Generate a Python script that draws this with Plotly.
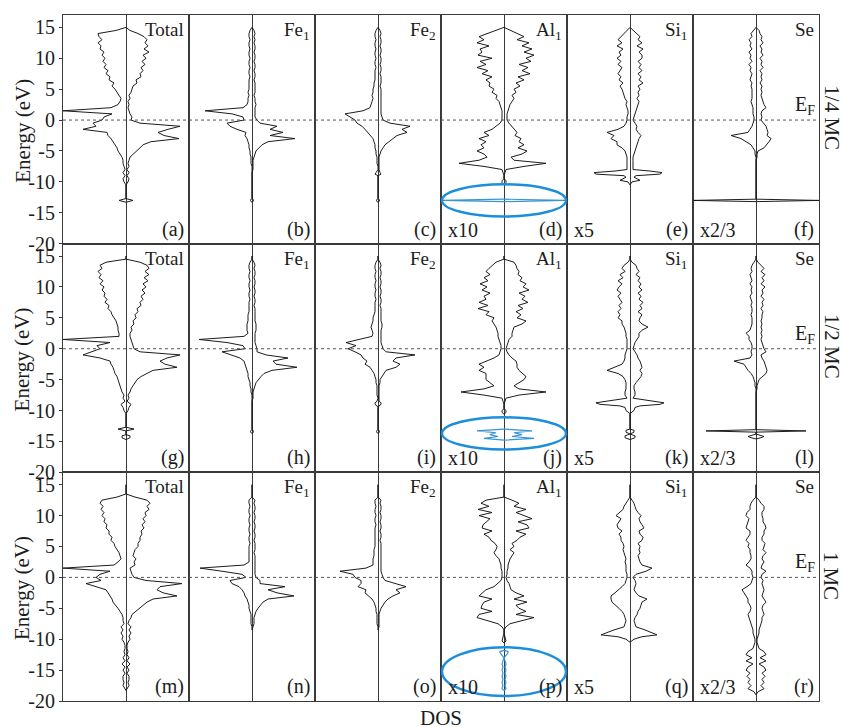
import plotly.graph_objects as go
from plotly.subplots import make_subplots

# ---------------- energy grid (eV) shared by the valence region ----------------
E_MAIN = [15, 14.5, 14, 13.5, 13, 12.5, 12, 11.5, 11, 10.5,
          10, 9.5, 9, 8.5, 8, 7.5, 7, 6.5, 6, 5.5,
          5, 4.5, 4, 3.5, 3, 2.5, 2, 1.5, 1, 0.5,
          0, -0.5, -1, -1.5, -2, -2.5, -3, -3.5, -4, -4.5,
          -5, -5.5, -6, -6.5, -7, -7.5, -8]

# ---------------- row 1 : 1/4 MC ----------------
a_up = [0, 4, 12, 18, 21, 19, 22, 18, 23, 17,
        20, 16, 19, 15, 17, 14, 15, 10, 11, 7,
        6, 5, 3, 4, 2, 3, 2, 3, 4, 6,
        5, 14, 54, 42, 32, 38, 53, 25, 17, 14,
        11, 7, 4, 3, 2, 3, 1]
a_dn = [0, 10, 28, 27, 24, 28, 25, 26, 22, 24,
        21, 23, 20, 22, 18, 20, 16, 17, 12, 14,
        11, 9, 7, 5, 6, 8, 15, 63, 14, 22,
        24, 33, 30, 43, 19, 18, 15, 13, 11, 9,
        8, 6, 4, 3, 3, 2, 1]
a_deep_e = [-8.5, -9, -9.5, -10, -10.5, -12.7, -13, -13.3]
a_deep = [3, 1, 3, 2, 0, 0, 7, 0]

b_up = [0, 2, 3, 2, 3, 2, 3, 3, 2, 3,
        3, 2, 3, 3, 2, 3, 3, 2, 3, 3,
        3, 3, 2, 3, 3, 4, 3, 3, 3, 3,
        5, 8, 25, 18, 31, 18, 43, 16, 10, 7,
        4, 3, 2, 1, 1, 1, 1]
b_dn = [0, 2, 3, 3, 2, 3, 3, 2, 3, 3,
        2, 3, 3, 2, 3, 3, 2, 3, 3, 3,
        3, 4, 3, 4, 4, 5, 9, 47, 20, 9,
        8, 25, 22, 15, 6, 7, 5, 4, 3, 3,
        2, 2, 1, 1, 1, 0, 0]
b_deep_e = [-8.5, -12.7, -13, -13.3]
b_deep = [0, 0, 2, 0]

c_up = [0, 2, 3, 2, 3, 3, 2, 3, 3, 2,
        3, 3, 2, 3, 3, 2, 3, 3, 3, 2,
        3, 3, 3, 3, 3, 3, 3, 3, 3, 4,
        5, 12, 32, 24, 29, 19, 15, 10, 7, 5,
        3, 2, 1, 1, 1, 1, 1]
c_dn = [0, 2, 3, 3, 2, 3, 3, 2, 3, 3,
        2, 3, 3, 2, 3, 3, 3, 3, 4, 4,
        5, 5, 6, 5, 6, 7, 8, 15, 33, 28,
        23, 21, 16, 13, 10, 7, 5, 4, 3, 3,
        2, 2, 1, 1, 1, 0, 0]
c_deep_e = [-8.5, -8.75, -9, -12.7, -13, -13.3]
c_deep = [2, 3, 0, 0, 2, 0]

d_up = [0, 7, 14, 20, 13, 25, 18, 28, 20, 30,
        22, 27, 15, 24, 18, 26, 14, 20, 12, 16,
        10, 12, 8, 10, 8, 6, 5, 4, 3, 3,
        3, 5, 8, 10, 13, 11, 17, 15, 20, 14,
        23, 18, 7, 10, 42, 20, 2]
d_dn = [0, 8, 18, 25, 20, 27, 15, 24, 22, 26,
        12, 24, 18, 27, 16, 22, 12, 18, 14, 15,
        10, 12, 7, 8, 5, 4, 3, 2, 2, 2,
        2, 4, 8, 12, 20, 15, 25, 18, 23, 20,
        27, 20, 17, 25, 45, 20, 2]
d_deep_e = [-8.5, -9, -9.5, -9.8, -10.1, -10.5]
d_deep = [1, 0, 0, 2, 2, 0]
d_blue_e = [-12.8, -13.0, -13.2]
d_blue = [0, 62, 0]

e_up = [0, 3, 6, 10, 8, 12, 7, 13, 9, 12,
        12, 8, 11, 9, 12, 8, 11, 9, 13, 8,
        10, 8, 9, 7, 9, 8, 7, 6, 5, 4,
        3, 5, 7, 6, 8, 11, 9, 8, 7, 6,
        5, 4, 3, 3, 3, 3, 3]
e_dn = [0, 3, 6, 9, 12, 8, 13, 7, 11, 9,
        13, 9, 12, 8, 10, 12, 9, 11, 7, 10,
        8, 7, 6, 5, 3, 4, 3, 2, 2, 3,
        3, 4, 6, 12, 23, 16, 19, 13, 13, 8,
        5, 4, 3, 3, 3, 3, 3]
e_deep_e = [-8.25, -8.5, -8.75, -9, -9.25, -9.5, -9.75, -10, -10.5]
e_deep_up = [20, 32, 30, 6, 4, 8, 10, 2, 0]
e_deep_dn = [15, 36, 34, 6, 4, 8, 10, 2, 0]

f_up = [0, 3, 4, 6, 5, 7, 4, 6, 5, 7,
        4, 6, 5, 7, 4, 6, 5, 6, 4, 6,
        5, 6, 5, 6, 7, 8, 10, 6, 5, 6,
        5, 8, 10, 11, 12, 11, 15, 13, 10, 8,
        2, 1, 1, 0, 0, 0, 0]
f_dn = [0, 3, 5, 4, 7, 5, 6, 4, 7, 5,
        6, 4, 7, 5, 6, 4, 5, 6, 4, 5,
        4, 4, 4, 4, 5, 4, 3, 3, 3, 2,
        2, 3, 4, 6, 8, 25, 15, 10, 5, 3,
        1, 1, 0, 0, 0, 0, 0]
f_deep_e = [-12.8, -13.0, -13.2]
f_deep = [0, 63, 0]

# ---------------- row 2 : 1/2 MC ----------------
g_up = [0, 0, 14, 21, 23, 19, 23, 18, 22, 17,
        20, 16, 19, 15, 17, 14, 15, 11, 12, 9,
        10, 7, 8, 5, 6, 4, 4, 5, 6, 7,
        8, 14, 54, 41, 34, 39, 51, 27, 21, 15,
        11, 9, 7, 5, 4, 2, 3]
g_dn = [0, 0, 20, 26, 24, 28, 25, 27, 23, 26,
        22, 24, 21, 22, 19, 21, 17, 18, 15, 14,
        12, 10, 9, 8, 8, 7, 7, 63, 16, 29,
        26, 34, 43, 26, 16, 15, 13, 12, 11, 9,
        8, 7, 6, 5, 4, 2, 3]
g_deep_e = [-8.5, -9, -9.5, -10, -10.5, -12.7, -13, -13.3, -13.9, -14.1, -14.4, -14.7]
g_deep = [1, 5, 3, 2, 0, 0, 8, 0, 0, 4, 4, 0]

h_up = [0, 0, 2, 3, 2, 3, 3, 2, 3, 3,
        2, 3, 3, 2, 3, 3, 2, 3, 3, 3,
        3, 3, 4, 4, 4, 3, 3, 3, 3, 4,
        5, 5, 14, 36, 21, 24, 45, 20, 12, 9,
        6, 4, 3, 2, 1, 1, 1]
h_dn = [0, 0, 2, 3, 3, 2, 3, 3, 2, 3,
        3, 2, 3, 3, 2, 3, 3, 3, 3, 4,
        4, 4, 5, 5, 5, 4, 8, 53, 25, 9,
        7, 30, 22, 12, 8, 7, 6, 5, 4, 4,
        3, 2, 2, 1, 1, 0, 0]
h_deep_e = [-8.5, -13.1, -13.4, -13.7]
h_deep = [0, 0, 2, 0]

i_up = [0, 0, 2, 3, 2, 3, 3, 2, 3, 3,
        2, 3, 3, 2, 3, 3, 2, 3, 3, 3,
        3, 3, 4, 4, 3, 3, 3, 3, 3, 4,
        5, 8, 37, 18, 15, 22, 18, 8, 6, 4,
        2, 2, 1, 1, 1, 1, 1]
i_dn = [0, 0, 2, 3, 3, 2, 3, 3, 2, 3,
        3, 2, 3, 3, 2, 3, 3, 3, 3, 4,
        5, 5, 6, 7, 6, 5, 6, 20, 32, 22,
        30, 23, 17, 15, 11, 13, 8, 6, 4, 3,
        2, 2, 1, 1, 1, 1, 0]
i_deep_e = [-8.5, -8.75, -9, -9.25, -9.5, -13.1, -13.4, -13.7]
i_deep = [1, 3, 3, 1, 0, 0, 2, 0]

j_up = [0, 0, 10, 12, 13, 15, 14, 18, 16, 22,
        19, 25, 15, 21, 18, 24, 14, 19, 12, 17,
        13, 22, 18, 10, 9, 8, 8, 5, 4, 3,
        2, 3, 5, 8, 12, 13, 13, 15, 18, 22,
        20, 15, 10, 15, 42, 15, 2]
j_dn = [0, 0, 8, 12, 15, 18, 14, 20, 16, 24,
        17, 22, 14, 20, 18, 25, 16, 26, 15, 18,
        10, 12, 10, 8, 7, 6, 6, 5, 4, 3,
        3, 4, 5, 10, 18, 25, 20, 25, 18, 18,
        18, 14, 10, 20, 43, 20, 2]
j_deep_e = [-8.5, -9, -9.7, -10, -10.3, -10.6]
j_deep = [1, 0, 0, 2, 2, 0]
j_blue_e = [-13.0, -13.3, -13.6, -13.9, -14.2, -14.5, -14.8]
j_blue_up = [0, 28, 10, 18, 8, 30, 0]
j_blue_dn = [0, 27, 8, 14, 6, 20, 0]

k_up = [0, 0, 2, 6, 7, 9, 6, 10, 8, 11,
        9, 12, 8, 11, 9, 13, 10, 12, 8, 12,
        10, 9, 12, 18, 12, 9, 9, 7, 5, 4,
        3, 5, 7, 8, 10, 11, 12, 10, 12, 11,
        8, 6, 4, 4, 5, 5, 3]
k_dn = [0, 0, 2, 6, 8, 5, 10, 7, 12, 8,
        11, 13, 9, 12, 10, 8, 11, 9, 12, 10,
        12, 8, 8, 6, 5, 4, 4, 3, 3, 3,
        3, 4, 5, 5, 6, 8, 15, 23, 12, 7,
        5, 4, 4, 4, 5, 5, 3]
k_deep_e = [-8.25, -8.5, -8.75, -9, -9.25, -9.5, -10, -10.5,
            -13, -13.2, -13.5, -13.8, -14.1, -14.4, -14.7]
k_deep = [15, 25, 34, 30, 10, 5, 4, 0, 0, 4, 4, 0, 5, 5, 0]

l_up = [0, 0, 2, 5, 8, 5, 9, 6, 8, 5,
        9, 6, 7, 5, 8, 6, 7, 5, 7, 6,
        6, 5, 6, 5, 6, 5, 6, 5, 6, 7,
        8, 10, 5, 6, 8, 9, 10, 11, 10, 6,
        3, 2, 1, 1, 0, 0, 0]
l_dn = [0, 0, 2, 4, 5, 4, 6, 5, 4, 6,
        4, 5, 4, 6, 5, 4, 5, 4, 4, 5,
        4, 4, 4, 5, 6, 10, 7, 7, 5, 4,
        4, 5, 4, 6, 22, 12, 10, 8, 5, 3,
        2, 1, 1, 0, 0, 0, 0]
l_deep_e = [-13.1, -13.3, -13.5, -13.8, -14.0, -14.2, -14.4, -14.6]
l_deep = [0, 50, 0, 0, 5, 8, 5, 0]

# ---------------- row 3 : 1 MC ----------------
m_up = [0, 0, 0, 0, 9, 21, 24, 21, 23, 19,
        20, 17, 19, 16, 18, 15, 16, 14, 14, 12,
        12, 9, 8, 7, 10, 8, 9, 4, 5, 6,
        8, 20, 56, 34, 31, 37, 51, 27, 21, 17,
        14, 10, 6, 5, 3, 2, 5]
m_dn = [0, 0, 0, 0, 9, 24, 26, 23, 25, 22,
        24, 21, 22, 19, 20, 17, 17, 14, 15, 12,
        11, 9, 7, 6, 5, 8, 12, 63, 16, 26,
        30, 25, 40, 30, 20, 18, 16, 14, 13, 10,
        8, 6, 4, 3, 3, 2, 5]
m_deep_e = [-8.5, -9, -9.5, -10, -10.5, -11, -11.5, -12, -12.5, -13, -13.5,
            -14, -14.5, -15, -15.5, -16, -16.5, -17, -17.5, -18, -18.3]
m_deep = [3, 5, 3, 4, 2, 1, 1, 2, 1, 3, 1, 4, 1, 3, 1, 3, 3, 2, 3, 1, 0]

n_up = [0, 0, 0, 0, 0, 3, 2, 3, 3, 2,
        3, 3, 2, 3, 3, 2, 3, 3, 2, 3,
        3, 3, 2, 3, 3, 3, 3, 3, 3, 3,
        4, 8, 8, 33, 16, 25, 42, 16, 11, 8,
        6, 4, 3, 2, 2, 2, 1]
n_dn = [0, 0, 0, 0, 0, 3, 3, 2, 3, 3,
        2, 3, 3, 2, 3, 3, 2, 3, 3, 2,
        3, 3, 3, 3, 3, 3, 8, 52, 30, 10,
        6, 22, 20, 13, 10, 8, 7, 5, 4, 3,
        3, 2, 1, 1, 1, 1, 0]
n_deep_e = [-8.5]
n_deep = [0]

o_up = [0, 0, 0, 0, 0, 3, 2, 3, 3, 2,
        3, 3, 2, 3, 3, 2, 3, 3, 2, 3,
        3, 3, 3, 3, 3, 3, 3, 3, 3, 4,
        5, 7, 17, 28, 18, 22, 15, 10, 7, 5,
        3, 2, 1, 1, 1, 1, 1]
o_dn = [0, 0, 0, 0, 0, 3, 3, 2, 3, 3,
        2, 3, 3, 2, 3, 3, 3, 3, 3, 3,
        3, 4, 4, 4, 5, 5, 5, 12, 38, 25,
        23, 17, 17, 20, 12, 13, 9, 6, 4, 3,
        2, 2, 1, 1, 1, 1, 0]
o_deep_e = [-8.5]
o_deep = [0]

p_up = [0, 0, 0, 0, 0, 8, 15, 10, 22, 12,
        20, 28, 14, 23, 25, 12, 22, 16, 13, 8,
        10, 6, 10, 8, 6, 5, 4, 4, 3, 3,
        2, 3, 5, 6, 7, 12, 20, 10, 23, 12,
        15, 22, 12, 30, 17, 6, 2]
p_dn = [0, 0, 0, 0, 0, 18, 23, 15, 26, 12,
        25, 14, 17, 21, 22, 12, 20, 15, 13, 9,
        7, 8, 10, 8, 5, 4, 3, 3, 2, 2,
        2, 3, 6, 10, 18, 22, 25, 12, 20, 22,
        23, 12, 25, 27, 17, 6, 2]
p_deep_e = [-8.5, -9, -9.5, -10, -10.3, -10.6]
p_deep = [0, 0, 1, 2, 2, 0]
p_blue_e = [-11.8, -12, -12.2, -12.5, -12.8, -13, -13.5, -14, -14.5,
            -15, -15.5, -16, -16.5, -17, -17.5, -18, -18.3]
p_blue = [0, 4, 4, 2, 1, 0, 1, 2, 1, 2, 1, 2, 1, 2, 1, 2, 0]

q_up = [0, 0, 0, 0, 0, 2, 4, 5, 6, 8,
        11, 9, 10, 12, 14, 9, 10, 13, 12, 8,
        10, 9, 10, 8, 9, 10, 12, 22, 16, 6,
        3, 5, 6, 5, 4, 6, 9, 17, 12, 11,
        10, 8, 7, 5, 4, 5, 6]
q_dn = [0, 0, 0, 0, 0, 2, 4, 6, 7, 10,
        14, 9, 11, 13, 12, 8, 11, 9, 9, 7,
        6, 7, 6, 5, 4, 5, 4, 4, 4, 3,
        3, 4, 5, 8, 11, 15, 19, 19, 18, 14,
        11, 8, 6, 5, 4, 5, 6]
q_deep_e = [-8.5, -9, -9.3, -9.6, -10, -10.5]
q_deep_up = [15, 22, 27, 12, 4, 0]
q_deep_dn = [16, 24, 29, 12, 4, 0]

r_up = [0, 0, 0, 0, 0, 3, 5, 8, 8, 6,
        6, 7, 7, 9, 10, 8, 8, 6, 6, 9,
        8, 7, 10, 7, 6, 8, 6, 5, 10, 6,
        5, 7, 6, 7, 8, 7, 6, 8, 10, 7,
        6, 7, 8, 6, 6, 5, 4]
r_dn = [0, 0, 0, 0, 0, 3, 5, 6, 6, 9,
        10, 7, 8, 9, 10, 6, 6, 8, 10, 7,
        8, 6, 6, 5, 5, 7, 10, 6, 4, 4,
        3, 4, 5, 9, 14, 12, 10, 8, 8, 6,
        5, 6, 8, 7, 6, 5, 4]
r_deep_e = [-8.5, -9, -9.5, -10, -10.5, -11, -11.5, -12, -12.5, -13, -13.5,
            -14, -14.5, -15, -15.5, -16, -16.5, -17, -17.5, -18, -18.5, -19]
r_deep = [3, 3, 2, 1, 1, 2, 3, 8, 10, 4, 10, 3, 8, 10, 6, 9, 6, 8, 5, 8, 2, 0]

# ---------------- labels ----------------
COL_TITLES = ["Total", "Fe<sub>1</sub>", "Fe<sub>2</sub>", "Al<sub>1</sub>", "Si<sub>1</sub>", "Se"]
COL_SCALES = ["", "", "", "x10", "x5", "x2/3"]
ROW_LABELS = ["1/4 MC", "1/2 MC", "1 MC"]
PANEL_TAGS = ["(a)", "(b)", "(c)", "(d)", "(e)", "(f)",
              "(g)", "(h)", "(i)", "(j)", "(k)", "(l)",
              "(m)", "(n)", "(o)", "(p)", "(q)", "(r)"]
Y_TICKS = [15, 10, 5, 0, -5, -10, -15, -20]
Y_TICK_TEXT = ["15", "10", "5", "0", "-5", "-10", "-15", "-20"]

PANELS = [
    (a_up, a_dn, a_deep_e, a_deep, a_deep, None),
    (b_up, b_dn, b_deep_e, b_deep, b_deep, None),
    (c_up, c_dn, c_deep_e, c_deep, c_deep, None),
    (d_up, d_dn, d_deep_e, d_deep, d_deep, (d_blue_e, d_blue, d_blue)),
    (e_up, e_dn, e_deep_e, e_deep_up, e_deep_dn, None),
    (f_up, f_dn, f_deep_e, f_deep, f_deep, None),
    (g_up, g_dn, g_deep_e, g_deep, g_deep, None),
    (h_up, h_dn, h_deep_e, h_deep, h_deep, None),
    (i_up, i_dn, i_deep_e, i_deep, i_deep, None),
    (j_up, j_dn, j_deep_e, j_deep, j_deep, (j_blue_e, j_blue_up, j_blue_dn)),
    (k_up, k_dn, k_deep_e, k_deep, k_deep, None),
    (l_up, l_dn, l_deep_e, l_deep, l_deep, None),
    (m_up, m_dn, m_deep_e, m_deep, m_deep, None),
    (n_up, n_dn, n_deep_e, n_deep, n_deep, None),
    (o_up, o_dn, o_deep_e, o_deep, o_deep, None),
    (p_up, p_dn, p_deep_e, p_deep, p_deep, (p_blue_e, p_blue, p_blue)),
    (q_up, q_dn, q_deep_e, q_deep_up, q_deep_dn, None),
    (r_up, r_dn, r_deep_e, r_deep, r_deep, None),
]

FONT = "Liberation Serif"
INK = "#1c1c1c"
FRAME = "#3a3a3a"
BLUE_LINE = "#3a94d4"
BLUE_RING = "#1b8fdc"
DOS_MAX = 63

fig = make_subplots(rows=3, cols=6, horizontal_spacing=0, vertical_spacing=0)

for k, (up, dn, de, dup, ddn, blue) in enumerate(PANELS):
    assert len(up) == len(E_MAIN) and len(dn) == len(E_MAIN), k
    assert len(de) == len(dup) == len(ddn), k
    r, c = k // 6 + 1, k % 6 + 1
    ys = E_MAIN + de
    fig.add_trace(go.Scatter(x=up + dup, y=ys, mode="lines",
                             line=dict(color=INK, width=1), hoverinfo="skip",
                             showlegend=False), row=r, col=c)
    fig.add_trace(go.Scatter(x=[-v for v in dn + ddn], y=ys, mode="lines",
                             line=dict(color=INK, width=1), hoverinfo="skip",
                             showlegend=False), row=r, col=c)
    if blue:
        be, bu, bd = blue
        fig.add_trace(go.Scatter(x=bu, y=be, mode="lines",
                                 line=dict(color=BLUE_LINE, width=1.2), hoverinfo="skip",
                                 showlegend=False), row=r, col=c)
        fig.add_trace(go.Scatter(x=[-v for v in bd], y=be, mode="lines",
                                 line=dict(color=BLUE_LINE, width=1.2), hoverinfo="skip",
                                 showlegend=False), row=r, col=c)

fig.update_xaxes(range=[-DOS_MAX, DOS_MAX], showticklabels=False, ticks="",
                 showgrid=False, zeroline=True, zerolinecolor=FRAME, zerolinewidth=1,
                 showline=True, mirror=True, linecolor=FRAME, linewidth=1)
fig.update_yaxes(range=[-20, 17], showgrid=False, zeroline=False, showline=True,
                 mirror=True, linecolor=FRAME, linewidth=1, showticklabels=False,
                 ticks="")
for r in range(1, 4):
    fig.update_yaxes(row=r, col=1, showticklabels=True, ticks="outside", ticklen=3,
                     tickcolor=FRAME, tickvals=Y_TICKS, ticktext=Y_TICK_TEXT,
                     tickfont=dict(family=FONT, size=20, color=INK))


def ax(n):
    return "" if n == 1 else str(n)


annotations = []
shapes = []
for k in range(18):
    n = k + 1
    r, c = k // 6, k % 6
    annotations.append(dict(text=COL_TITLES[c], xref=f"x{ax(n)} domain", yref=f"y{ax(n)} domain",
                            x=1, y=1, xanchor="right", yanchor="top", xshift=-3, yshift=-2,
                            showarrow=False, font=dict(family=FONT, size=19, color=INK)))
    annotations.append(dict(text=PANEL_TAGS[k], xref=f"x{ax(n)} domain", yref=f"y{ax(n)} domain",
                            x=1, y=0, xanchor="right", yanchor="bottom", xshift=-3, yshift=1,
                            showarrow=False, font=dict(family=FONT, size=20, color=INK)))
    if COL_SCALES[c]:
        annotations.append(dict(text=COL_SCALES[c], xref=f"x{ax(n)} domain", yref=f"y{ax(n)} domain",
                                x=0, y=0, xanchor="left", yanchor="bottom", xshift=5, yshift=1,
                                showarrow=False, font=dict(family=FONT, size=20, color=INK)))

for r in range(3):
    first = r * 6 + 1
    last = r * 6 + 6
    shapes.append(dict(type="line", xref="paper", x0=0, x1=1, yref=f"y{ax(first)}", y0=0, y1=0,
                       line=dict(color="#555555", width=1, dash="dot"), layer="above"))
    annotations.append(dict(text="E<sub>F</sub>", xref=f"x{ax(last)} domain", yref=f"y{ax(last)}",
                            x=1, y=0, xanchor="right", yanchor="bottom", xshift=-2, yshift=0,
                            showarrow=False, font=dict(family=FONT, size=20, color=INK)))
    annotations.append(dict(text="Energy (eV)", xref="paper", yref=f"y{ax(first)}",
                            x=-0.054, y=-1.7, xanchor="center", yanchor="middle", textangle=-90,
                            showarrow=False, font=dict(family=FONT, size=21, color=INK)))
    annotations.append(dict(text=ROW_LABELS[r], xref="paper", yref=f"y{ax(last)}",
                            x=1.017, y=0.3, xanchor="center", yanchor="middle", textangle=90,
                            showarrow=False, font=dict(family=FONT, size=21, color=INK)))

ELLIPSES = [(4, -15.6, -10.4), (10, -16.3, -11.1), (16, -19.2, -11.3)]
for n, e0, e1 in ELLIPSES:
    shapes.append(dict(type="circle", xref=f"x{n}", yref=f"y{n}", x0=-62, x1=62, y0=e0, y1=e1,
                       line=dict(color=BLUE_RING, width=2.5), layer="above"))

annotations.append(dict(text="DOS", xref="paper", yref="paper", x=0.5, y=0, xanchor="center",
                        yanchor="top", yshift=-3, showarrow=False,
                        font=dict(family=FONT, size=21, color=INK)))

fig.update_layout(width=841, height=727, margin=dict(l=63, r=22, t=15, b=26),
                  paper_bgcolor="white", plot_bgcolor="white",
                  annotations=annotations, shapes=shapes,
                  font=dict(family=FONT, color=INK))

fig.write_html("out.html", config={"displayModeBar": False},
               post_script="document.body.style.margin='0';document.body.style.padding='0';")
